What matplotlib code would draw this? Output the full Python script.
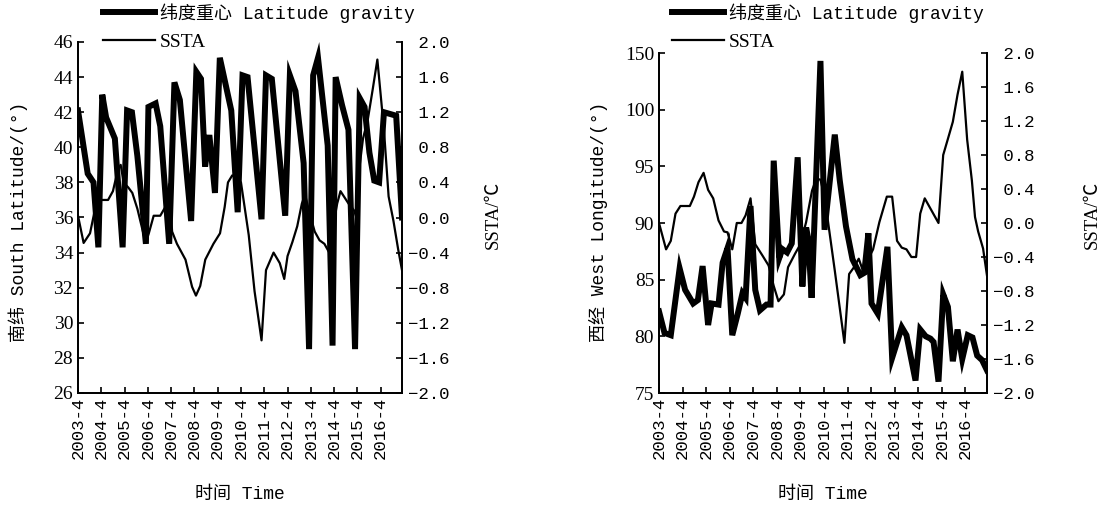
import numpy as np
import matplotlib
matplotlib.use("Agg")
import matplotlib.pyplot as plt
from matplotlib.ticker import FuncFormatter

plt.rcParams['font.family'] = ['Liberation Serif', 'Noto Sans CJK SC']
mono = ['Liberation Mono', 'Noto Sans CJK SC']

# x is months counted from 2003-4 (one tick per year)
tick_months = np.arange(0, 157, 12)
tick_labels = [f"{y}-4" for y in range(2003, 2017)]

# left panel: latitude gravity centre (deg S)
lat_month = [0, 5, 8, 10.5, 12.5, 14.5, 19, 23, 25.3, 27.8, 30.6, 35, 36.3, 40, 42.4, 47,
             49.7, 52.5, 58.3, 61, 63.4, 65.5, 67.7, 70.6, 73.1, 79, 82.3, 84.8, 87.4, 94.6,
             96.9, 99.9, 106.8, 109.2, 112.1, 116.3, 119.1, 121.2, 123.7, 126.2, 128.7, 131.2,
             132.8, 136.1, 139.4, 142.8, 145.2, 147.7, 150.2, 152.7, 155.2, 157.7, 164, 167]
lat_value = [42.1, 38.5, 38.0, 34.3, 43.0, 41.7, 40.5, 34.3, 42.1, 42.0, 39.5, 34.5, 42.3, 42.5,
             41.2, 34.5, 43.7, 42.7, 35.8, 44.3, 43.9, 38.9, 40.7, 37.4, 45.1, 42.1, 36.3, 44.1,
             44.0, 35.9, 44.1, 43.9, 36.1, 44.1, 43.2, 39.1, 28.5, 44.1, 45.1, 42.6, 40.1, 28.7,
             44.0, 42.4, 41.0, 28.5, 42.8, 42.3, 39.7, 38.1, 38.0, 42.0, 41.8, 36.0]

# left panel: SSTA
ssta_l_month = [0, 2.9, 6.2, 9, 11.5, 15.5, 18, 20.5, 22, 23.5, 26, 28, 30.6, 32.8, 34.9, 36.5,
                39, 42.4, 45, 47, 48.5, 51, 55.4, 58.8, 60.8, 63, 65.6, 69.8, 73.2, 75.6, 77.3,
                79.5, 81.5, 84, 88, 91, 94.6, 96.9, 100.8, 104, 106.3, 108, 110.5, 113, 115.4,
                117, 119.5, 122, 124.5, 127, 129.5, 131.5, 133.6, 135.3, 139.4, 142.3, 143.5,
                145, 146.9, 149.4, 151.9, 154.3, 157.7, 160.1, 162.6, 165, 167]
ssta_l_value = [0.02, -0.29, -0.18, 0.12, 0.20, 0.20, 0.30, 0.54, 0.60, 0.40, 0.34, 0.28, 0.10,
                -0.10, -0.29, -0.18, 0.02, 0.02, 0.12, 0.38, -0.16, -0.30, -0.48, -0.79, -0.89,
                -0.78, -0.48, -0.30, -0.18, 0.12, 0.40, 0.48, 0.46, 0.40, -0.20, -0.84, -1.40,
                -0.60, -0.40, -0.52, -0.70, -0.44, -0.28, -0.10, 0.16, 0.26, 0.04, -0.16, -0.26,
                -0.30, -0.40, -0.10, 0.16, 0.30, 0.16, 0.08, 0.00, 0.56, 0.90, 1.12, 1.46, 1.80,
                1.00, 0.24, -0.04, -0.36, -0.60]

# right panel: longitude gravity centre (deg W)
lon_month = [0, 2.8, 6.0, 10.5, 13.3, 17.4, 19.8, 22.2, 25.0, 26.8, 30.3, 32.4, 34.9, 37.3, 40.1,
             42.5, 44.1, 46.6, 49.0, 51.4, 54.7, 56.8, 58.4, 61.2, 62.8, 65.2, 67.6, 70.6, 73.0,
             74.9, 76.0, 77.7, 82.2, 84.3, 89.5, 92.0, 95.2, 98.5, 102.5, 104.5, 106.6, 108.2,
             111.4, 116.3, 118.7, 123.6, 126.0, 130.6, 133.0, 135.8, 138.2, 139.8, 142.3, 144.7,
             147.1, 149.6, 152.0, 154.4, 157.2, 159.6, 162.0, 164.5, 167]
lon_value = [82.2, 80.3, 80.1, 86.0, 84.1, 82.9, 83.2, 86.2, 81.0, 82.9, 82.8, 86.5, 87.8, 80.1,
             82.0, 83.8, 83.4, 91.5, 84.1, 82.3, 82.8, 82.8, 95.5, 86.9, 87.7, 87.4, 88.2, 95.8,
             84.4, 89.6, 88.6, 83.4, 143.0, 89.4, 97.8, 93.8, 89.7, 86.8, 85.4, 85.6, 89.1, 82.9,
             82.0, 87.9, 78.1, 80.8, 80.1, 76.1, 80.6, 80.0, 79.8, 79.5, 76.0, 83.7, 82.6, 77.8,
             80.6, 78.0, 80.1, 79.9, 78.3, 77.9, 77.0]

# right panel: SSTA
ssta_r_month = [0, 3.6, 6, 8.4, 10.9, 15.7, 17.8, 20.1, 22.7, 25, 27.6, 30.3, 33.1, 34.9, 37.3,
                39.6, 42, 44.1, 46.6, 49, 52.6, 55.8, 58.4, 60.8, 63.6, 65.7, 69.3, 72, 74.9,
                77.9, 80.1, 82.2, 84.3, 89.5, 94.4, 96.8, 99.3, 101.7, 103.8, 106.2, 109, 112.2,
                116, 118.7, 121.2, 123.6, 126, 128.5, 130.9, 133, 135.3, 138.2, 142.3, 144.7,
                147.1, 149.6, 152, 154.4, 156.9, 159.3, 160.9, 162.5, 165, 167]
ssta_r_value = [0.0, -0.31, -0.21, 0.11, 0.20, 0.20, 0.31, 0.48, 0.59, 0.39, 0.29, 0.03, -0.10,
                -0.11, -0.31, 0.0, 0.0, 0.09, 0.29, -0.25, -0.38, -0.50, -0.74, -0.92, -0.84,
                -0.52, -0.36, -0.25, 0.01, 0.38, 0.52, 0.51, 0.31, -0.56, -1.41, -0.60, -0.52,
                -0.42, -0.56, -0.44, -0.31, 0.01, 0.31, 0.31, -0.21, -0.29, -0.31, -0.40, -0.40,
                0.11, 0.29, 0.17, 0.0, 0.80, 0.99, 1.19, 1.51, 1.78, 0.98, 0.50, 0.07, -0.10,
                -0.30, -0.62]

ssta_ticks = np.round(np.linspace(-2, 2, 11), 1)


def ssta_fmt(x, pos):
    # keep the digits lined up, the minus hangs out to the left
    return f"{round(x, 1) + 0.0:4.1f}".replace('-', '\u2212')


# 75..100 linear, then 100..150 squeezed into one tick step
def lon_fwd(v):
    v = np.asarray(v, dtype=float)
    return np.where(v <= 100, v, 100 + (v - 100) / 10.0)


def lon_inv(u):
    u = np.asarray(u, dtype=float)
    return np.where(u <= 100, u, 100 + (u - 100) * 10.0)


fig = plt.figure(figsize=(11.08, 5.08), dpi=100)
W, H = 1108, 508


def panel(rect, xm, yv, sm, sv, ylabel, ylab_x, ssta_x, leg_x):
    ax = fig.add_axes(rect)
    ax2 = ax.twinx()
    l1, = ax.plot(xm, yv, color='black', lw=4.3, solid_joinstyle='miter')
    l2, = ax2.plot(sm, sv, color='black', lw=1.6)
    ax.set_xlim(0, 167)
    ax.set_xticks(tick_months)
    ax.set_xticklabels(tick_labels, rotation=90, family=mono, fontsize=12.5)
    ax2.set_ylim(-2, 2)
    ax2.set_yticks(ssta_ticks)
    ax2.yaxis.set_major_formatter(FuncFormatter(ssta_fmt))
    for a in (ax, ax2):
        a.spines['top'].set_visible(False)
        for s in ('left', 'right', 'bottom'):
            a.spines[s].set_linewidth(1.3)
        a.tick_params(direction='in', length=4, width=1.2)
    ax.tick_params(axis='y', labelsize=14)
    ax.tick_params(axis='x', pad=3)
    ax2.tick_params(axis='y', labelsize=12.5, pad=4)
    for t in ax2.get_yticklabels():
        t.set_family(mono)
    x0 = rect[0] + rect[2] / 2
    fig.text(x0, 1 - 494 / H, '时间 Time', ha='center', va='center', family=mono, fontsize=13)
    fig.text(ylab_x / W, 1 - 222 / H, ylabel, rotation=90, ha='center', va='center',
             family=mono, fontsize=13)
    fig.text(ssta_x / W, 1 - 215 / H, 'SSTA/℃', rotation=90, ha='center', va='center',
             fontsize=13.5)
    leg = ax.legend([l1, l2], ['纬度重心 Latitude gravity', 'SSTA'], loc='upper left',
                    bbox_to_anchor=(leg_x / W, 1 - 3 / H), bbox_transform=fig.transFigure,
                    frameon=False, borderpad=0, borderaxespad=0, handlelength=2.9,
                    handletextpad=0.25, labelspacing=0.62, prop={'family': mono, 'size': 13})
    leg.get_texts()[1].set_family('Liberation Serif')
    leg.get_texts()[1].set_fontsize(14)
    return ax, ax2


axL, axL2 = panel([78 / W, 1 - 393 / H, 324 / W, 351 / H], lat_month, lat_value,
                  ssta_l_month, ssta_l_value, '南纬 South Latitude/(°)', 18, 493, 103)
axL.set_ylim(26, 46)
axL.set_yticks(np.arange(26, 47, 2))

axR, axR2 = panel([659 / W, 1 - 393 / H, 328 / W, 340 / H], lon_month, lon_value,
                  ssta_r_month, ssta_r_value, '西经 West Longitude/(°)', 598, 1092, 672)
axR.set_yscale('function', functions=(lon_fwd, lon_inv))
axR.set_ylim(75, 150)
axR.set_yticks([75, 80, 85, 90, 95, 100, 150])
axR.set_yticklabels(['75', '80', '85', '90', '95', '100', '150'])
axR.minorticks_off()

fig.savefig('out.png', dpi=100)
